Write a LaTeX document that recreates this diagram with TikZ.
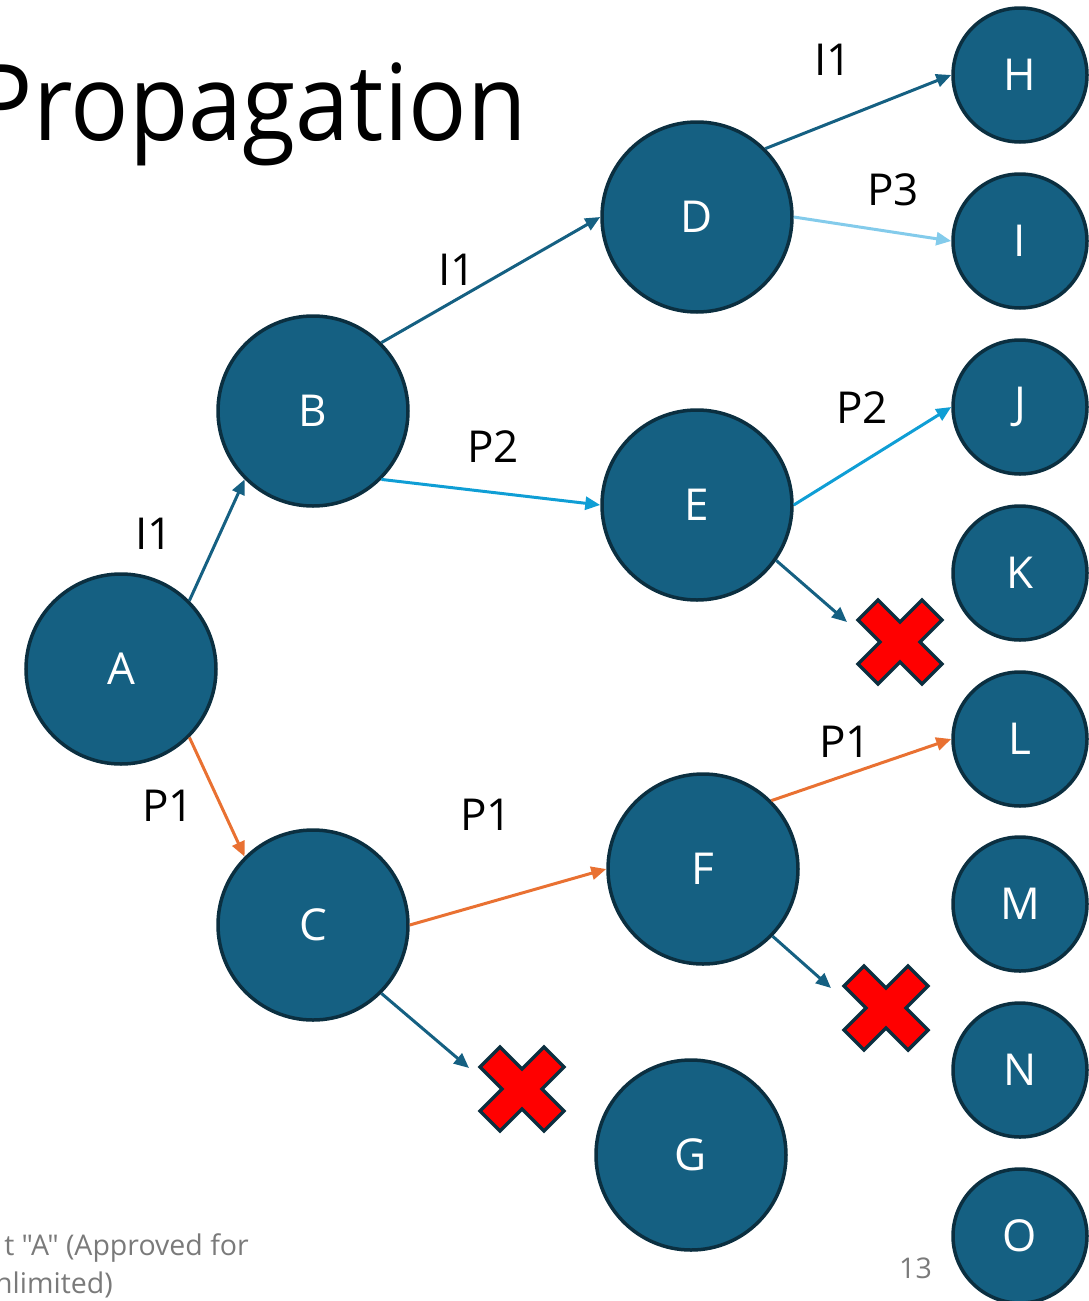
\documentclass[tikz,border=0pt]{standalone}
\usepackage{fontspec}
\setmainfont{Open Sans}
\newfontfamily\plainquotes[Ligatures=TeXOff]{Open Sans}
\usetikzlibrary{arrows.meta}
\definecolor{nodefill}{HTML}{156082}
\definecolor{nodeline}{HTML}{0B2F40}
\definecolor{orangeedge}{HTML}{E97132}
\definecolor{blueedge}{HTML}{0F9ED5}
\definecolor{paleedge}{HTML}{83CBEB}
\definecolor{footgray}{HTML}{7A7A7A}
\definecolor{crossred}{HTML}{FF0000}
\tikzset{
  bignode/.style={circle, fill=nodefill, draw=nodeline, line width=3.5pt,
    minimum size=190pt, inner sep=0pt, text=white,
    font=\fontsize{44}{50}\selectfont},
  smallnode/.style={bignode, minimum size=134pt},
  edge/.style={line width=3pt, -{Triangle[length=15pt,width=13pt]}},
  impl/.style={edge, draw=nodefill},
  pone/.style={edge, draw=orangeedge},
  ptwo/.style={edge, draw=blueedge},
  pthree/.style={edge, draw=paleedge},
  elabel/.style={inner sep=0pt, font=\fontsize{44}{50}\selectfont},
  foot/.style={inner sep=0pt, text=footgray, font=\plainquotes\fontsize{28.5}{32}\selectfont},
  xmark/.pic={
    \draw[fill=crossred, draw=nodeline, line width=3.5pt, line join=miter]
      (-42,-22) -- (-22,-42) -- (0,-20) -- (22,-42) -- (42,-22) -- (20,0)
      -- (42,22) -- (22,42) -- (0,20) -- (-22,42) -- (-42,22) -- (-20,0) -- cycle;
  }
}
\begin{document}
\begin{tikzpicture}[x=1pt,y=-1pt]
\useasboundingbox (0,0) rectangle (1089,1301);
\clip (0,0) rectangle (1089,1301);

% title
\node[anchor=base east, inner sep=0pt, font=\fontsize{106}{120}\selectfont]
  (title) at (527,140) {\scalebox{0.915}[1]{Propagation}};

% footer
\node[foot, anchor=base east] (foot1) at (249,1255) {t "A" (Approved for};
\node[foot, anchor=base east] (foot2) at (113,1293) {nlimited)};
\node[foot, anchor=base east] (pagenum) at (932,1278) {13};

% tree nodes
\node[bignode] (A) at (121,669) {A};
\node[bignode] (B) at (313,411) {B};
\node[bignode] (C) at (313,925) {C};
\node[bignode] (D) at (697,217) {D};
\node[bignode] (E) at (697,505) {E};
\node[bignode] (F) at (703,869) {F};
\node[bignode] (G) at (691,1155) {G};

% leaf column
\node[smallnode] (H) at (1020,75)   {H};
\node[smallnode] (I) at (1020,241)  {I};
\node[smallnode] (J) at (1020,407)  {J};
\node[smallnode] (K) at (1020,573)  {K};
\node[smallnode] (L) at (1020,739)  {L};
\node[smallnode] (M) at (1020,904)  {M};
\node[smallnode] (N) at (1020,1070) {N};
\node[smallnode] (O) at (1020,1236) {O};

% pruned branches
\coordinate (xc) at (522,1089);
\coordinate (xe) at (900,642);
\coordinate (xf) at (886,1008);
\coordinate (tipc) at (469,1068);
\coordinate (tipe) at (847,622);
\coordinate (tipf) at (831,988);
\pic at (xc) {xmark};
\pic at (xe) {xmark};
\pic at (xf) {xmark};

% connectors
\draw[impl]   (A.45)  -- (B.-135);
\draw[pone]   (A.-45) -- (C.135);
\draw[impl]   (B.45)  -- (D.west);
\draw[ptwo]   (B.-45) -- (E.west);
\draw[pone]   (C.east) -- (F.west);
\draw[impl]   (C.-45) -- (tipc);
\draw[impl]   (D.45)  -- (H.west);
\draw[pthree] (D.east) -- (I.west);
\draw[ptwo]   (E.east) -- (J.west);
\draw[impl]   (E.-35) -- (tipe);
\draw[pone]   (F.45)  -- (L.west);
\draw[impl]   (F.-44) -- (tipf);

% connector labels
\node[elabel] (lab) at (154,534) {I1};
\node[elabel] (lac) at (168,806) {P1};
\node[elabel] (lbd) at (457,270) {I1};
\node[elabel] (lbe) at (493,447) {P2};
\node[elabel] (lcf) at (486,815) {P1};
\node[elabel] (ldh) at (833,60)  {I1};
\node[elabel] (ldi) at (893,190) {P3};
\node[elabel] (lej) at (862,408) {P2};
\node[elabel] (lfl) at (845,742) {P1};
\end{tikzpicture}
\end{document}
